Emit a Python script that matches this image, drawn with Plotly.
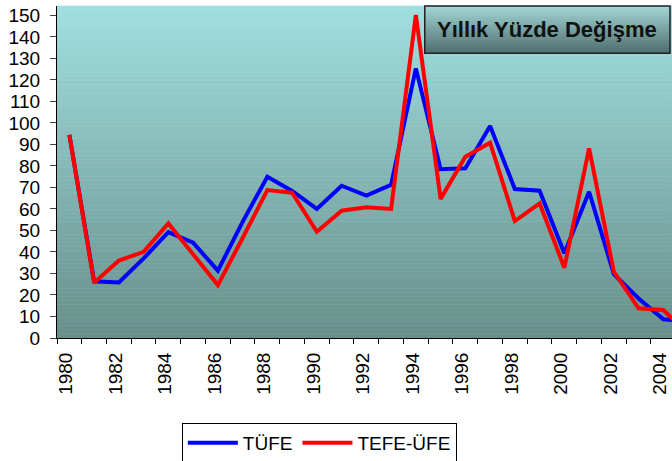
import plotly.graph_objects as go

years = list(range(1980, 2006))
tufe = [94.5, 26.4, 25.8, 37.0, 49.2, 44.3, 31.3, 54.0, 75.0, 68.4, 60.0, 70.8, 66.2, 71.2,
        125.4, 78.5, 78.9, 98.6, 69.3, 68.5, 39.4, 68.0, 29.7, 18.4, 8.7, 7.7]
tefe = [94.5, 25.7, 36.0, 40.1, 53.3, 38.6, 24.6, 46.5, 68.8, 67.6, 49.4, 59.2, 60.8, 60.0,
        150.2, 64.7, 84.3, 90.8, 54.4, 62.6, 32.7, 88.2, 30.8, 13.8, 13.0, 2.0]
tick_years = list(range(1980, 2005, 2))
y_ticks = list(range(0, 151, 10))
title_text = "Yıllık Yüzde Değişme"

FONT = "Liberation Sans, Arial, sans-serif"

fig = go.Figure()
fig.add_trace(go.Scatter(x=years, y=tufe, mode="lines", name="TÜFE",
                         line=dict(color="#0000FF", width=4)))
fig.add_trace(go.Scatter(x=years, y=tefe, mode="lines", name="TEFE-ÜFE",
                         line=dict(color="#FF0000", width=4)))


def lerp(c1, c2, t):
    return "rgb(%d,%d,%d)" % tuple(round(a + (b - a) * t) for a, b in zip(c1, c2))


shapes = []
# plot-area vertical gradient
top_c, bot_c = (160, 223, 224), (104, 143, 138)
N = 80
for i in range(N):
    y0 = 1 - i / N
    y1 = 1 - (i + 1) / N
    c = lerp(top_c, bot_c, (i + 0.5) / N)
    shapes.append(dict(type="rect", xref="paper", yref="paper", x0=0, x1=1, y0=y1, y1=y0,
                       fillcolor=c, line=dict(width=0.6, color=c), layer="below"))

# title box gradient
bx0, bx1, by0, by1 = 0.598, 0.9967, 0.858, 1.0
tb_top, tb_bot = (165, 216, 216), (78, 108, 108)
M = 24
for i in range(M):
    ya = by1 - (by1 - by0) * i / M
    yb = by1 - (by1 - by0) * (i + 1) / M
    c = lerp(tb_top, tb_bot, (i + 0.5) / M)
    shapes.append(dict(type="rect", xref="paper", yref="paper", x0=bx0, x1=bx1, y0=yb, y1=ya,
                       fillcolor=c, line=dict(width=0.6, color=c), layer="above"))
shapes.append(dict(type="rect", xref="paper", yref="paper", x0=bx0, x1=bx1, y0=by0, y1=by1,
                   fillcolor="rgba(0,0,0,0)", line=dict(color="#222222", width=1.5),
                   layer="above"))

fig.update_layout(
    width=672, height=461,
    margin=dict(l=57, r=0, t=6, b=123, autoexpand=False),
    paper_bgcolor="white",
    plot_bgcolor="rgba(0,0,0,0)",
    font=dict(family=FONT, size=19, color="black"),
    shapes=shapes,
    showlegend=True,
    legend=dict(orientation="h", x=0.203, xanchor="left", y=-0.256, yanchor="top",
                bordercolor="black", borderwidth=1, bgcolor="white",
                font=dict(size=19), itemwidth=50),
    annotations=[dict(text="<b>" + title_text + "</b>", xref="paper", yref="paper",
                      x=(bx0 + bx1) / 2, y=(by0 + by1) / 2, showarrow=False,
                      font=dict(size=22, family=FONT, color="#111111"),
                      xanchor="center", yanchor="middle")],
)

fig.update_xaxes(range=[1979.5, 2004.35], tickvals=[y - 0.14 for y in tick_years],
                 ticktext=[str(y) for y in tick_years], tickangle=-90,
                 ticks="", showgrid=False, zeroline=False, automargin=False,
                 ticklabeloverflow="allow",
                 showline=True, linecolor="black", linewidth=1,
                 ticklabelstandoff=6,
                 minor=dict(tick0=1979.5, dtick=1, ticks="outside", ticklen=5,
                            tickcolor="black", showgrid=False))
fig.update_yaxes(range=[0, 154.4], tickvals=y_ticks, ticks="outside", ticklen=6,
                 tickcolor="#444444", showgrid=False, zeroline=False, automargin=False,
                 ticklabeloverflow="allow",
                 showline=True, linecolor="black", linewidth=1,
                 ticklabelstandoff=6)

fig.write_html("out.html", config={"displayModeBar": False},
               post_script="document.body.style.margin='0';")
